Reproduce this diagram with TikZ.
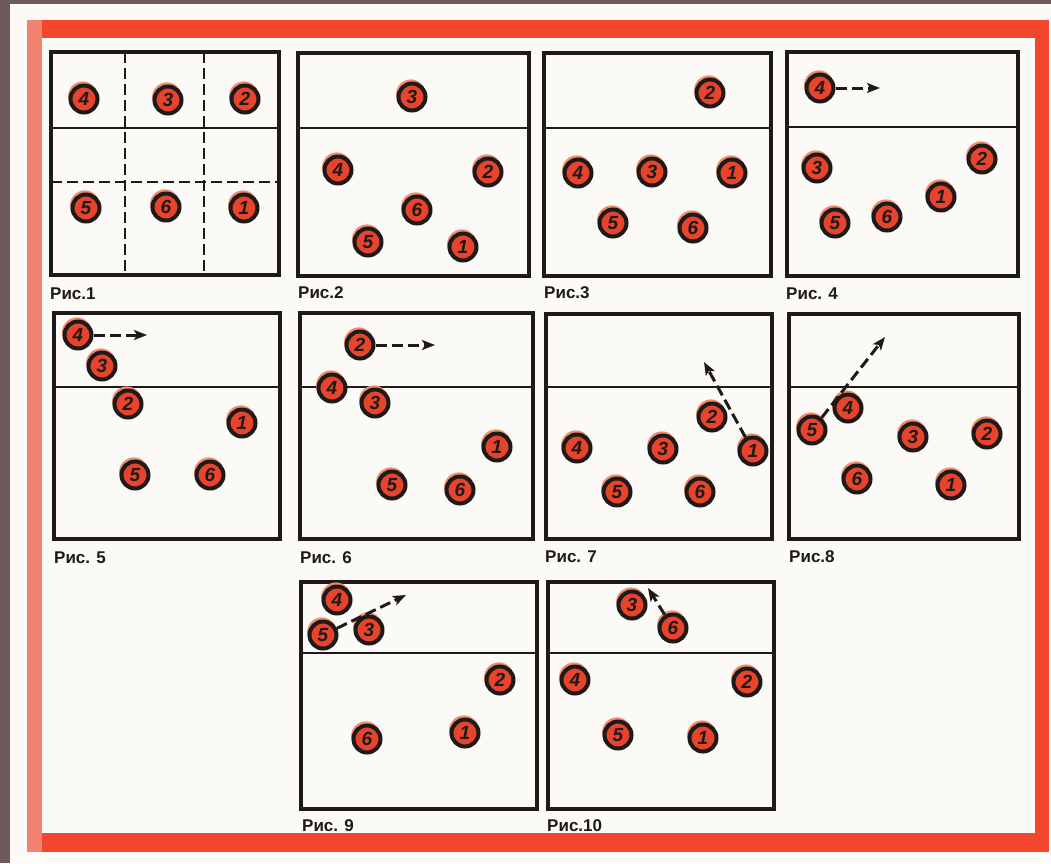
\documentclass[tikz,border=0pt]{standalone}
\usepackage{fontspec}
\setmainfont{Liberation Sans}
\usetikzlibrary{arrows.meta,shadows}
\definecolor{bgdark}{HTML}{6E5B59}
\definecolor{paper}{HTML}{FBFAF6}
\definecolor{frred}{HTML}{F2472E}
\definecolor{frpink}{HTML}{F08470}
\definecolor{pred}{HTML}{E8432B}
\definecolor{halo}{HTML}{F58A6A}
\definecolor{ink}{HTML}{1E1A1A}
\begin{document}
\begin{tikzpicture}[x=1pt,y=-1pt,
  court/.style={draw=ink,line width=3.6pt},
  netline/.style={draw=ink,line width=2.4pt},
  zone/.style={draw=ink,line width=2.4pt,dash pattern=on 11pt off 5pt},
  player/.style={circle,draw=ink,line width=4pt,fill=pred,minimum size=27pt,inner sep=0pt,
    font=\fontsize{19}{19}\selectfont\bfseries\itshape,text=ink,
    drop shadow={shadow xshift=-1pt,shadow yshift=2.5pt,fill=halo,opacity=1,shadow scale=1.1}},
  move/.style={draw=ink,line width=3pt,dash pattern=on 11pt off 5pt,-{Stealth[length=13pt,width=10pt,inset=3pt]}},
  figlabel/.style={anchor=base west,font=\fontsize{17}{17}\selectfont\bfseries,text=ink,inner sep=0pt}
]
\useasboundingbox (0,0) rectangle (1051,863);
% background and frame
\fill[bgdark] (0,0) rectangle (1051,863);
\fill[paper] (10,4) rectangle (1051,863);
\fill[frred] (27,20) rectangle (1049,38);
\fill[frred] (1035,20) rectangle (1049,852);
\fill[frred] (27,833) rectangle (1049,852);
\fill[frpink] (27,20) rectangle (42,852);

% ---------- courts ----------
% 1
\draw[zone] (125,52) -- (125,275) (204,52) -- (204,275) (51,182) -- (279,182);
\draw[netline] (51,128) -- (279,128);
\draw[court] (51,52) rectangle (279,275);
% 2
\draw[netline] (298,128) -- (529,128);
\draw[court] (298,53) rectangle (529,276);
% 3
\draw[netline] (544,128) -- (771,128);
\draw[court] (544,53) rectangle (771,276);
% 4
\draw[netline] (787,127) -- (1018,127);
\draw[court] (787,52) rectangle (1018,276);
% 5
\draw[netline] (54,387) -- (280,387);
\draw[court] (54,313) rectangle (280,539);
% 6
\draw[netline] (300,387) -- (533,387);
\draw[court] (300,313) rectangle (533,539);
% 7
\draw[netline] (546,387) -- (772,387);
\draw[court] (546,314) rectangle (772,539);
% 8
\draw[netline] (789,387) -- (1019,387);
\draw[court] (789,314) rectangle (1019,539);
% 9
\draw[netline] (301,653) -- (537,653);
\draw[court] (301,582) rectangle (537,809);
% 10
\draw[netline] (548,653) -- (774,653);
\draw[court] (548,582) rectangle (774,809);

% ---------- players ----------
% fig 1
\node[player] (a4) at (84,99) {4};
\node[player] (a3) at (168,100) {3};
\node[player] (a2) at (245,99) {2};
\node[player] (a5) at (86,208) {5};
\node[player] (a6) at (166,207) {6};
\node[player] (a1) at (244,208) {1};
% fig 2
\node[player] (b3) at (412,97) {3};
\node[player] (b4) at (338,170) {4};
\node[player] (b2) at (488,172) {2};
\node[player] (b6) at (417,210) {6};
\node[player] (b5) at (368,242) {5};
\node[player] (b1) at (463,247) {1};
% fig 3
\node[player] (c2) at (710,93) {2};
\node[player] (c4) at (578,173) {4};
\node[player] (c3) at (652,172) {3};
\node[player] (c1) at (732,173) {1};
\node[player] (c5) at (613,223) {5};
\node[player] (c6) at (693,228) {6};
% fig 4
\node[player] (d4) at (820,88) {4};
\node[player] (d3) at (817,168) {3};
\node[player] (d2) at (982,159) {2};
\node[player] (d1) at (941,197) {1};
\node[player] (d6) at (887,217) {6};
\node[player] (d5) at (835,223) {5};
\coordinate (d4t) at (880,88);
\draw[move] (d4) -- (d4t);
% fig 5
\node[player] (e4) at (78,335) {4};
\node[player] (e3) at (102,366) {3};
\node[player] (e2) at (128,404) {2};
\node[player] (e1) at (242,423) {1};
\node[player] (e5) at (135,475) {5};
\node[player] (e6) at (210,475) {6};
\coordinate (e4t) at (147,335);
\draw[move] (e4) -- (e4t);
% fig 6
\node[player] (f2) at (360,345) {2};
\node[player] (f4) at (332,388) {4};
\node[player] (f3) at (375,403) {3};
\node[player] (f1) at (497,447) {1};
\node[player] (f5) at (392,485) {5};
\node[player] (f6) at (460,490) {6};
\coordinate (f2t) at (435,345);
\draw[move] (f2) -- (f2t);
% fig 7
\node[player] (g2) at (712,417) {2};
\node[player] (g4) at (577,448) {4};
\node[player] (g3) at (663,449) {3};
\node[player] (g1) at (753,451) {1};
\node[player] (g5) at (617,492) {5};
\node[player] (g6) at (700,492) {6};
\coordinate (g1t) at (704,362);
\draw[move] (g1) -- (g1t);
% fig 8
\node[player] (h5) at (812,430) {5};
\node[player] (h4) at (848,408) {4};
\node[player] (h3) at (913,437) {3};
\node[player] (h2) at (987,434) {2};
\node[player] (h6) at (857,479) {6};
\node[player] (h1) at (951,485) {1};
\coordinate (h5t) at (885,337);
\draw[move] (h5) -- (h5t);
% fig 9
\node[player] (i4) at (337,600) {4};
\node[player] (i5) at (323,635) {5};
\node[player] (i3) at (369,630) {3};
\node[player] (i2) at (500,680) {2};
\node[player] (i6) at (367,739) {6};
\node[player] (i1) at (465,733) {1};
\coordinate (i5t) at (406,595);
\draw[move] (i5) -- (i5t);
% fig 10
\node[player] (j3) at (632,605) {3};
\node[player] (j6) at (673,628) {6};
\node[player] (j4) at (575,680) {4};
\node[player] (j2) at (747,682) {2};
\node[player] (j5) at (618,735) {5};
\node[player] (j1) at (703,738) {1};
\coordinate (j6t) at (648,588);
\draw[move] (j6) -- (j6t);

% ---------- labels ----------
\node[figlabel] (l1) at (50,299) {Рис.1};
\node[figlabel] (l2) at (298,298) {Рис.2};
\node[figlabel] (l3) at (544,298) {Рис.3};
\node[figlabel] (l4) at (786,299) {Рис. 4};
\node[figlabel] (l5) at (54,563) {Рис. 5};
\node[figlabel] (l6) at (300,563) {Рис. 6};
\node[figlabel] (l7) at (545,562) {Рис. 7};
\node[figlabel] (l8) at (789,562) {Рис.8};
\node[figlabel] (l9) at (302,831) {Рис. 9};
\node[figlabel] (l10) at (547,831) {Рис.10};
\end{tikzpicture}
\end{document}
